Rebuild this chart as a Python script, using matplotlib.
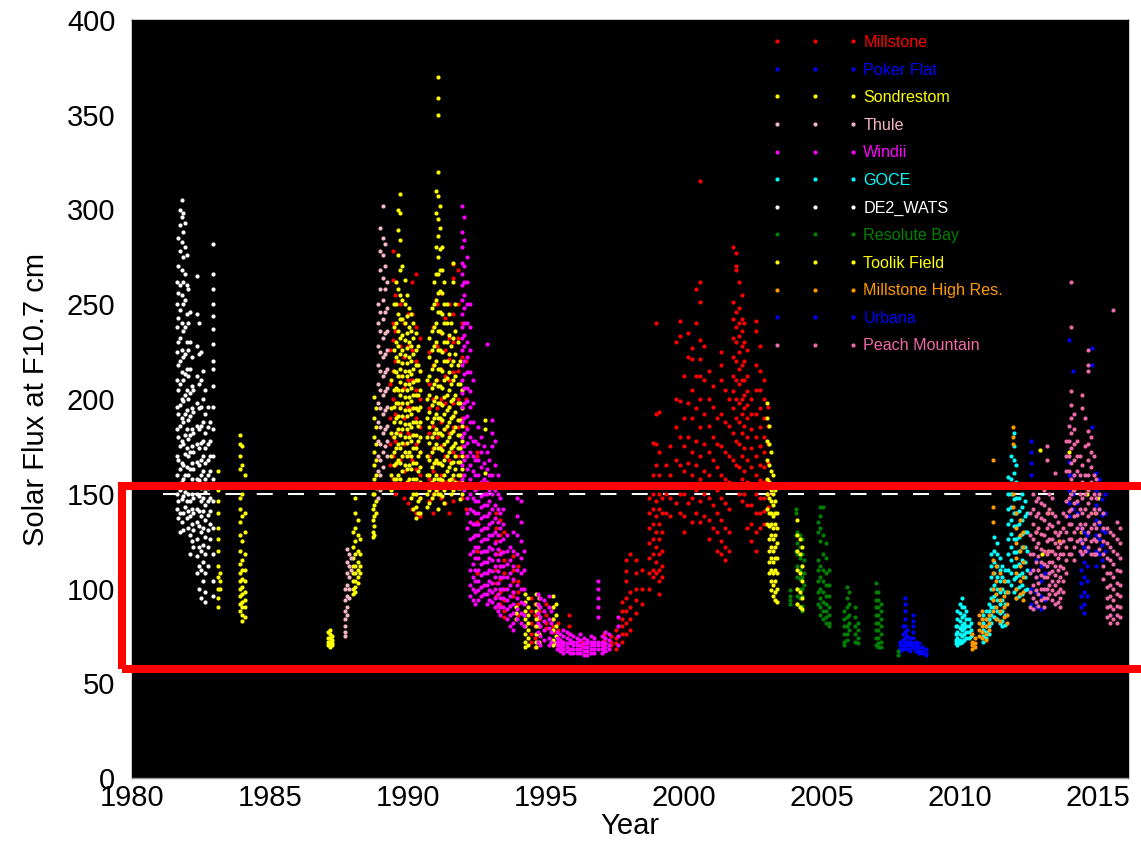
import matplotlib
matplotlib.use("Agg")
import matplotlib.pyplot as plt
from matplotlib.lines import Line2D
from matplotlib.patches import Rectangle
import numpy as np

plt.rcParams['font.family'] = ['Liberation Sans', 'DejaVu Sans']

# ---- Observation sets: (decimal year, [F10.7 flux values observed around that time]) ----
millstone = [
    (1989.35, [226, 208, 190, 176, 165]),
    (1989.45, [278, 263, 240, 231, 215, 200, 180, 170, 158]),
    (1989.55, [255, 236, 220, 205, 192, 178, 165, 150]),
    (1989.70, [250, 228, 212, 196, 182, 168, 155]),
    (1989.85, [240, 222, 206, 190, 176, 162, 148]),
    (1990.00, [245, 228, 210, 196, 182, 170, 156, 145]),
    (1990.15, [262, 245, 226, 210, 195, 181, 168, 155, 142]),
    (1990.30, [266, 238, 220, 205, 190, 176, 163, 150, 140]),
    (1990.45, [232, 215, 200, 185, 172, 160, 148, 138]),
    (1990.75, [225, 208, 195, 182, 170, 158, 146]),
    (1990.90, [238, 218, 200, 186, 174, 162, 150, 140]),
    (1991.05, [250, 228, 210, 195, 180, 166, 152]),
    (1991.20, [256, 235, 216, 200, 188, 175, 160, 148]),
    (1991.35, [243, 226, 212, 198, 184, 170, 156, 145]),
    (1991.50, [250, 232, 221, 210, 196, 182, 168, 154, 140]),
    (1991.65, [271, 264, 245, 230, 214, 198, 185, 172, 158, 146]),
    (1991.80, [268, 250, 232, 215, 200, 185, 170, 156]),
    (1991.95, [240, 222, 205, 190, 175, 160, 148]),
    (1992.10, [220, 200, 185, 170, 155, 142]),
    (1992.50, [172, 170, 135, 120, 108]),
    (1993.20, [140, 132, 125, 118, 110, 103, 96, 90]),
    (1993.35, [136, 128, 120, 112, 105, 98, 92]),
    (1993.50, [130, 115, 108, 100, 94, 88, 85]),
    (1993.80, [117, 110, 104, 98, 96]),
    (1994.00, [112, 104, 98, 92, 86]),
    (1994.45, [95, 88, 82, 76, 72]),
    (1994.60, [92, 86, 80, 74, 69]),
    (1994.75, [95, 88, 84, 80, 76]),
    (1995.00, [92, 86, 82, 79]),
    (1995.25, [90, 84, 80, 77]),
    (1995.45, [82, 78, 74, 71]),
    (1995.85, [86, 80, 76]),
    (1996.30, [72, 70, 69]),
    (1997.10, [76, 73, 70, 69]),
    (1997.35, [75, 72, 70]),
    (1997.55, [78, 74, 71, 68]),
    (1997.75, [93, 88, 84, 80, 76, 72]),
    (1997.90, [115, 109, 104, 95, 88, 82, 76]),
    (1998.05, [118, 98, 90, 84, 78]),
    (1998.25, [115, 108, 100, 94, 87]),
    (1998.50, [110, 100, 92]),
    (1998.75, [148, 140, 132, 124, 116, 108, 100]),
    (1998.90, [177, 160, 150, 142, 134, 126, 118, 110, 106]),
    (1999.00, [240, 192, 176, 165, 155, 146, 138, 130, 122, 114, 108]),
    (1999.10, [193, 172, 160, 150, 142, 134, 126, 118, 110, 104, 97]),
    (1999.20, [148, 140, 130, 120, 112, 106]),
    (1999.35, [165, 150, 140]),
    (1999.50, [175, 160, 148, 138]),
    (1999.70, [230, 200, 185, 168, 155, 145]),
    (1999.85, [241, 233, 199, 180, 165, 150, 140]),
    (2000.00, [212, 190, 175, 162, 150, 138, 130]),
    (2000.15, [235, 222, 198, 180, 166, 155, 145]),
    (2000.30, [227, 221, 205, 190, 172, 160, 148, 135]),
    (2000.45, [258, 240, 212, 195, 178, 165, 152, 140]),
    (2000.60, [315, 262, 251, 231, 221, 212, 200, 185, 170, 158, 146, 135]),
    (2000.75, [228, 210, 192, 176, 162, 150, 138]),
    (2000.90, [215, 200, 186, 172, 160, 148, 136, 126]),
    (2001.05, [207, 196, 180, 168, 155, 144, 132]),
    (2001.20, [190, 176, 164, 152, 140, 130, 120]),
    (2001.35, [225, 218, 210, 192, 175, 160, 148, 136, 125, 118]),
    (2001.50, [205, 188, 172, 158, 145, 132, 122, 115]),
    (2001.65, [200, 186, 170, 156, 142, 130, 120]),
    (2001.80, [280, 251, 242, 232, 222, 212, 204, 195, 182, 168, 155]),
    (2001.90, [277, 270, 268, 246, 238, 230, 220, 210, 200, 190, 178, 165]),
    (2002.00, [262, 248, 240, 233, 225, 216, 208, 198, 188, 176, 164, 150]),
    (2002.10, [255, 242, 236, 228, 218, 210, 200, 192, 182, 170, 158, 146]),
    (2002.20, [240, 230, 220, 210, 202, 195, 186, 174, 162, 150]),
    (2002.30, [226, 212, 204, 197, 190, 180, 168, 156, 144, 132]),
    (2002.45, [200, 192, 184, 174, 164, 154, 144, 134, 125]),
    (2002.60, [241, 236, 218, 205, 192, 180, 170, 160, 150, 140, 130, 120]),
    (2002.75, [228, 215, 205, 195, 185, 175, 165, 157, 148, 140, 132]),
    (2002.90, [210, 200, 190, 180, 172, 164, 156, 148, 141, 134]),
    (2003.05, [196, 186, 176, 166, 157, 150, 143]),
]

poker_flat = [
    (2007.85, [72, 70, 68, 67]),
    (2007.95, [80, 76, 73, 70, 68]),
    (2008.02, [95, 92, 88, 84, 80, 77, 74, 71, 69]),
    (2008.10, [78, 75, 72, 70, 68]),
    (2008.20, [74, 72, 70, 68, 67]),
    (2008.30, [86, 83, 80, 77, 74, 71, 69]),
    (2008.40, [72, 70, 68, 67]),
    (2008.52, [71, 69, 67, 66]),
    (2008.65, [69, 67, 66]),
    (2008.78, [68, 66, 65]),
]

sondrestrom = [
    (1983.10, [162, 152, 146, 140, 132, 126, 120, 112, 106, 100, 95, 90]),
    (1983.20, [108, 104, 100]),
    (1983.92, [181, 176, 170, 163, 155, 148, 142, 135, 128, 120, 113, 108, 104, 100, 96, 92, 88]),
    (1984.00, [175, 165, 150, 138, 125, 115, 110, 105, 101, 97, 93, 90, 86, 83]),
    (1984.08, [160, 140, 130, 118, 110, 104, 98, 94, 90, 85]),
    (1987.12, [77, 74, 72, 70]),
    (1987.18, [78, 76, 74, 72, 70, 69]),
    (1987.25, [75, 73, 71, 70]),
    (1988.02, [130, 122, 116, 112, 108, 104, 100, 97]),
    (1988.10, [148, 140, 132, 125, 118, 112, 108, 104, 101, 98]),
    (1988.18, [136, 128, 120, 114, 110, 106, 103]),
    (1988.26, [126, 118, 112, 108]),
    (1988.72, [150, 142, 136, 130, 127]),
    (1988.78, [201, 190, 180, 172, 165, 158, 150, 144, 138, 133, 128]),
    (1988.86, [195, 185, 176, 168, 160, 153, 146, 140]),
    (1989.40, [210, 195, 182, 170, 160, 152]),
    (1989.48, [250, 238, 226, 215, 205, 196, 188, 180, 172, 165, 158]),
    (1989.56, [262, 250, 240, 230, 222, 214, 206, 198, 190, 182, 174, 166, 158]),
    (1989.64, [300, 289, 276, 258, 245, 236, 228, 220, 212, 205, 198, 191, 184, 176, 168, 160]),
    (1989.72, [308, 298, 284, 268, 255, 242, 232, 224, 216, 209, 202, 195, 188, 181, 174, 166, 158]),
    (1989.80, [270, 252, 242, 234, 226, 219, 212, 205, 198, 191, 184, 177, 170, 162]),
    (1989.88, [263, 250, 240, 231, 223, 215, 208, 201, 194, 187, 180, 172, 165]),
    (1989.96, [255, 244, 235, 227, 219, 212, 205, 198, 191, 184, 177, 170, 163, 156]),
    (1990.04, [248, 238, 230, 222, 215, 208, 201, 194, 187, 180, 172, 165, 158]),
    (1990.12, [245, 236, 228, 220, 213, 206, 199, 192, 185, 178, 170, 163, 155, 148]),
    (1990.20, [240, 232, 224, 216, 209, 202, 195, 188, 181, 174, 166, 158, 150, 142]),
    (1990.28, [235, 226, 218, 210, 202, 195, 188, 181, 174, 166, 158, 150, 143, 137]),
    (1990.36, [228, 218, 210, 202, 194, 186, 178, 170, 162, 154, 146, 140]),
    (1990.44, [215, 205, 196, 188, 180, 172, 164, 156, 148, 140]),
    (1990.70, [210, 200, 190, 180, 170, 160, 150, 143]),
    (1990.78, [232, 222, 212, 202, 193, 185, 177, 168, 160, 152, 145]),
    (1990.86, [248, 236, 226, 216, 206, 197, 188, 180, 172, 164, 156, 148]),
    (1990.94, [262, 250, 238, 228, 218, 208, 199, 190, 182, 174, 166, 158, 150]),
    (1991.02, [310, 298, 280, 266, 252, 240, 230, 220, 210, 201, 192, 184, 176, 168, 160, 152]),
    (1991.08, [370, 359, 350, 320, 307, 295, 286, 275, 266, 256, 246, 236, 226, 216, 207,
               198, 190, 182, 174, 166, 158, 150, 142]),
    (1991.16, [302, 290, 279, 268, 257, 246, 236, 226, 216, 207, 198, 190, 182, 174, 166, 158, 150]),
    (1991.24, [280, 268, 256, 245, 235, 225, 215, 206, 197, 189, 181, 173, 165, 157, 149]),
    (1991.32, [262, 250, 240, 230, 220, 210, 201, 192, 184, 176, 168, 160, 152, 145]),
    (1991.40, [250, 240, 230, 220, 211, 202, 194, 186, 178, 170, 162, 155]),
    (1991.48, [245, 234, 224, 214, 205, 196, 188, 180, 172, 164, 157]),
    (1991.56, [240, 228, 218, 208, 199, 190, 182, 174, 166, 158, 150]),
    (1991.64, [272, 262, 232, 220, 210, 200, 191, 183, 175, 167, 160, 152]),
    (1991.72, [250, 236, 224, 212, 202, 193, 185, 177, 170, 163, 156]),
    (1991.80, [230, 218, 208, 198, 189, 181, 174, 167, 160, 153]),
    (1991.88, [220, 208, 198, 189, 181, 174, 167, 160, 153, 147]),
    (1991.96, [205, 195, 186, 178, 170, 163, 156, 150]),
    (1992.80, [189, 184, 161]),
    (1993.90, [90, 87, 84]),
    (1994.25, [97, 93, 88, 84, 80, 76, 72, 69]),
    (1994.35, [95, 90, 86, 82, 78, 74, 70]),
    (1994.65, [97, 92, 88, 84, 80, 76, 72, 69]),
    (1994.75, [95, 90, 85, 80, 76, 72]),
    (1995.25, [96, 90, 84, 78, 73, 70]),
    (1995.35, [92, 86, 80, 75, 71]),
]

thule = [
    (1987.72, [100, 94, 88, 84, 80, 77, 75]),
    (1987.80, [121, 114, 108, 102, 96, 90, 86]),
    (1987.88, [118, 112, 106, 100, 95]),
    (1987.95, [116, 110]),
    (1988.92, [250, 240, 228, 218, 208, 198, 188, 178, 170, 162, 155, 148]),
    (1989.00, [290, 278, 268, 258, 246, 236, 225, 215, 205, 195, 185, 176, 168, 160, 152]),
    (1989.08, [302, 285, 276, 264, 252, 242, 232, 222, 212, 202, 192, 182, 172, 164]),
    (1989.16, [282, 270, 258, 246, 235, 224, 214, 204, 194, 184, 175]),
    (1989.24, [262, 248, 236, 226, 216, 206, 196, 186, 178, 170]),
]

windii = [
    (1991.95, [302, 288, 280, 272, 266, 260, 252, 245, 238, 232, 226, 218, 210, 203, 196, 188, 180, 172, 165, 158]),
    (1992.05, [296, 284, 270, 262, 255, 248, 240, 234, 228, 220, 213, 206, 198, 190, 182, 175, 168, 160, 152]),
    (1992.15, [275, 262, 250, 240, 230, 222, 214, 206, 199, 191, 184, 177, 170, 163, 155, 148, 140, 132]),
    (1992.25, [250, 238, 226, 214, 204, 196, 188, 180, 172, 165, 158, 150, 142, 135, 126, 118, 110, 102, 96]),
    (1992.35, [210, 198, 188, 178, 170, 162, 155, 148, 141, 134, 127, 120, 113, 106, 100, 94]),
    (1992.45, [178, 168, 160, 152, 146, 140, 134, 128, 122, 116, 110, 104, 98, 92]),
    (1992.55, [185, 176, 168, 160, 153, 146, 140, 134, 128, 122, 116, 110, 104, 99, 94]),
    (1992.65, [180, 172, 164, 156, 149, 143, 137, 131, 125, 119, 113, 107, 101, 96]),
    (1992.75, [175, 166, 158, 150, 144, 138, 132, 126, 120, 114, 108, 102, 97]),
    (1992.85, [229, 172, 163, 156, 150, 144, 138, 132, 126, 120, 114, 108, 102, 97, 92]),
    (1992.95, [168, 160, 152, 146, 140, 134, 128, 122, 116, 110, 104, 99, 94]),
    (1993.05, [189, 182, 175, 160, 150, 142, 135, 128, 121, 115, 109, 103, 98, 93]),
    (1993.15, [178, 165, 152, 144, 137, 130, 124, 118, 112, 106, 100, 95, 90]),
    (1993.25, [160, 150, 142, 135, 128, 121, 115, 109, 103, 97, 92, 88]),
    (1993.35, [148, 140, 132, 125, 118, 112, 106, 100, 95, 90, 86]),
    (1993.45, [142, 134, 126, 119, 112, 106, 100, 95, 90]),
    (1993.60, [128, 120, 113, 106, 100, 94, 89, 84]),
    (1993.70, [122, 115, 108, 102, 96, 91, 86, 80]),
    (1993.80, [130, 120, 112, 105, 98, 92, 87, 82, 78]),
    (1993.95, [148, 138, 128, 118, 110, 102, 95, 89, 84]),
    (1994.10, [146, 135, 125, 116, 108, 100, 93, 87, 82]),
    (1994.20, [120, 110, 100, 92, 86, 80]),
    (1994.70, [97, 92, 87, 82, 77, 72]),
    (1994.80, [95, 90, 85, 80, 75, 70]),
    (1994.95, [94, 88, 83, 78, 73]),
    (1995.10, [96, 90, 84, 79, 74, 70]),
    (1995.20, [88, 82, 77, 72]),
    (1995.40, [77, 74, 72, 70, 68]),
    (1995.50, [76, 73, 71, 69, 67]),
    (1995.62, [78, 75, 72, 70, 68, 66]),
    (1995.75, [77, 74, 71, 69, 67]),
    (1995.88, [76, 73, 71, 68, 66]),
    (1996.00, [75, 72, 70, 68, 66]),
    (1996.12, [74, 72, 70, 68, 66]),
    (1996.25, [76, 73, 70, 68, 66]),
    (1996.38, [74, 71, 69, 67, 65]),
    (1996.50, [73, 71, 69, 67, 65]),
    (1996.62, [75, 72, 70, 68, 66]),
    (1996.75, [74, 72, 70, 68, 66]),
    (1996.90, [104, 100, 95, 90, 85, 72, 70, 68]),
    (1997.02, [75, 72, 70, 68, 66]),
    (1997.15, [77, 74, 71, 69, 67]),
    (1997.28, [76, 73, 70, 68]),
    (1997.60, [85, 80, 75, 70]),
]

goce = [
    (2009.85, [80, 76, 73, 71]),
    (2009.92, [88, 84, 80, 77, 74, 72, 70]),
    (2010.00, [92, 87, 83, 79, 76, 73, 71]),
    (2010.08, [95, 90, 85, 81, 78, 75, 72]),
    (2010.16, [90, 86, 82, 79, 76, 73]),
    (2010.24, [88, 84, 80, 77, 74]),
    (2010.32, [84, 80, 77, 74]),
    (2010.40, [82, 78, 75]),
    (2010.85, [86, 82, 78, 75, 72]),
    (2010.95, [88, 84, 80, 77, 74]),
    (2011.05, [92, 88, 84, 80, 76]),
    (2011.15, [118, 112, 106, 100, 95, 90, 86, 82]),
    (2011.25, [127, 120, 114, 108, 102, 96, 90, 85]),
    (2011.35, [124, 118, 112, 106, 100, 94, 88, 84]),
    (2011.45, [116, 110, 104, 98, 92, 87, 82]),
    (2011.55, [112, 106, 100, 94, 88, 83, 80]),
    (2011.65, [110, 104, 98, 92, 86, 81]),
    (2011.75, [159, 150, 142, 134, 126, 118, 110, 104, 98]),
    (2011.85, [170, 158, 150, 143, 136, 129, 122, 115, 108, 102]),
    (2011.95, [182, 175, 168, 161, 154, 147, 140, 133, 126, 119, 112, 105, 98]),
    (2012.05, [165, 156, 148, 140, 133, 126, 119, 112, 106, 100, 95]),
    (2012.15, [155, 148, 141, 134, 127, 120, 113, 107, 101, 96]),
    (2012.25, [150, 143, 136, 129, 122, 115, 108, 102, 97]),
    (2012.35, [146, 138, 130, 122, 114, 106, 99]),
    (2012.45, [140, 130, 120, 110, 100]),
]

de2_wats = [
    (1981.62, [262, 250, 238, 225, 210, 196, 184, 170, 160, 150, 142]),
    (1981.68, [285, 270, 256, 243, 230, 218, 205, 192, 180, 168, 155, 146, 137]),
    (1981.74, [300, 292, 278, 260, 247, 232, 220, 208, 197, 186, 175, 163, 152, 140, 130]),
    (1981.80, [305, 296, 283, 268, 255, 240, 226, 214, 200, 190, 178, 166, 156, 147, 135]),
    (1981.86, [298, 288, 275, 262, 250, 236, 222, 210, 199, 188, 176, 165, 158, 149, 140, 131]),
    (1981.92, [293, 280, 266, 252, 238, 224, 213, 202, 192, 181, 171, 160, 151, 143]),
    (1981.98, [276, 260, 245, 230, 216, 205, 194, 184, 174, 164, 155, 146, 137]),
    (1982.04, [258, 240, 226, 212, 200, 189, 179, 170, 160, 150, 141, 132]),
    (1982.10, [246, 230, 216, 203, 191, 181, 172, 163, 154, 146, 138, 128, 118]),
    (1982.16, [222, 207, 195, 184, 175, 166, 158, 150, 142, 134, 125]),
    (1982.22, [205, 193, 182, 172, 163, 155, 148, 140, 131, 122]),
    (1982.35, [265, 245, 228, 212, 198, 186, 176, 167, 158, 150, 142, 135, 126, 117, 108]),
    (1982.42, [240, 224, 208, 195, 184, 174, 165, 157, 149, 141, 133, 122, 112, 100]),
    (1982.50, [225, 210, 196, 186, 177, 168, 160, 153, 146, 138, 130, 120, 110, 95]),
    (1982.58, [215, 200, 188, 178, 170, 162, 155, 148, 141, 132, 123, 114, 104]),
    (1982.66, [205, 192, 182, 174, 166, 158, 151, 144, 136, 127, 118, 108, 98, 93]),
    (1982.74, [196, 185, 176, 168, 160, 153, 146, 139, 131, 122, 112]),
    (1982.82, [188, 178, 170, 162, 155, 148, 141, 134, 126]),
    (1982.95, [282, 266, 258, 250, 244, 237, 229, 220, 216, 207, 196, 184, 170, 158, 146, 132, 118, 104, 96]),
]

resolute_bay = [
    (2003.85, [99, 96, 94, 92]),
    (2004.05, [142, 140, 128, 120]),
    (2004.12, [130, 124, 118, 112, 106, 100, 96, 92]),
    (2004.20, [128, 122, 116, 110, 105, 100, 95, 90]),
    (2004.28, [126, 118, 112, 106, 100, 96, 91, 88]),
    (2004.35, [115, 108, 102]),
    (2004.88, [135, 130, 115, 110, 104, 98, 92]),
    (2004.95, [143, 138, 132, 125, 112, 106, 100, 95, 90, 86]),
    (2005.05, [143, 128, 118, 110, 104, 98, 93, 88, 84]),
    (2005.15, [124, 116, 108, 102, 96, 92, 88, 85, 82]),
    (2005.25, [110, 102, 96, 90, 86, 82, 80]),
    (2005.80, [88, 84, 80, 76, 72, 70]),
    (2005.90, [101, 95, 90, 85, 80, 76, 73]),
    (2006.00, [98, 92, 86, 82, 78]),
    (2006.20, [90, 85, 80, 76, 72]),
    (2006.30, [82, 78, 74, 71]),
    (2006.95, [103, 98, 94, 90, 86, 82, 78, 74, 70]),
    (2007.05, [98, 94, 90, 86, 82, 78, 74, 71, 69]),
    (2007.15, [92, 88, 84, 80, 76, 72, 69]),
    (2007.78, [67, 65]),
]

toolik_field = [
    (2003.00, [198, 190, 178, 168, 158, 150, 142, 134]),
    (2003.08, [186, 176, 165, 156, 148, 140, 133, 126, 120, 114, 108]),
    (2003.15, [172, 162, 152, 146, 140, 134, 128, 122, 116, 110, 104, 99]),
    (2003.22, [160, 150, 144, 138, 132, 126, 120, 114, 108, 102, 96]),
    (2003.30, [152, 146, 140, 134, 128, 122, 116, 110, 104, 98, 94]),
    (2003.38, [140, 132, 124, 116, 108, 100, 93]),
    (2004.12, [136, 128, 120, 110, 100, 92]),
    (2004.22, [126, 118, 108, 98, 90]),
    (2004.30, [122, 112, 104, 95, 89]),
    (2012.90, [173]),
    (2013.00, [118]),
    (2013.95, [172]),
    (2014.60, [150]),
    (2014.90, [118]),
    (2015.00, [148]),
]

millstone_hr = [
    (2010.45, [76, 72, 70, 68]),
    (2010.55, [74, 71, 69]),
    (2010.70, [86, 82, 78, 75]),
    (2010.80, [88, 84, 80, 77, 74]),
    (2010.95, [84, 80, 76, 73]),
    (2011.05, [86, 82, 78]),
    (2011.20, [168, 143, 135, 115, 108, 100, 94, 88]),
    (2011.30, [112, 104, 97, 90, 84]),
    (2011.45, [108, 100, 94, 88, 83]),
    (2011.60, [104, 96, 90, 85]),
    (2011.70, [98, 92, 86, 82]),
    (2011.92, [185, 180, 176, 150, 143]),
    (2012.05, [140, 132, 124, 116, 108, 100, 95]),
    (2012.18, [136, 128, 120, 112, 104, 97]),
    (2012.30, [130, 122, 114, 106, 98, 94]),
    (2012.75, [130]),
    (2013.20, [140, 120]),
    (2013.60, [125]),
    (2014.10, [152]),
    (2014.40, [130]),
    (2014.90, [140]),
]

urbana = [
    (2012.60, [178, 172, 166, 160, 110, 100, 92]),
    (2012.75, [115, 106, 98, 90]),
    (2012.95, [112, 104, 96, 89]),
    (2013.10, [108, 100, 94]),
    (2013.95, [231, 167, 160, 152, 145, 138]),
    (2014.10, [215, 160, 150, 142]),
    (2014.25, [155, 145, 140]),
    (2014.40, [132, 125, 118, 110, 103, 96, 90]),
    (2014.50, [130, 122, 114, 106, 98, 92, 87]),
    (2014.60, [128, 120, 112, 104, 96]),
    (2014.80, [227, 218, 185]),
    (2014.95, [161, 152, 144, 136, 128, 120, 112]),
    (2015.05, [158, 150, 142, 134, 126, 118]),
    (2015.15, [155, 147, 139, 131, 123, 115]),
    (2015.25, [150, 140, 130, 120]),
]

peach_mountain = [
    (2012.55, [140, 128, 118, 108, 98, 90]),
    (2012.65, [150, 142, 134, 126, 118, 110, 102, 95, 89]),
    (2012.75, [154, 146, 138, 130, 122, 114, 106, 99, 93]),
    (2012.85, [148, 140, 132, 124, 117, 110, 103, 97, 91]),
    (2012.95, [145, 137, 129, 121, 114, 107, 100, 94]),
    (2013.05, [152, 144, 136, 128, 120, 113, 106, 100, 95, 90]),
    (2013.15, [175, 168, 140, 132, 125, 118, 112, 106, 100, 95]),
    (2013.25, [150, 142, 134, 126, 120, 114, 108, 102, 97]),
    (2013.35, [148, 140, 133, 126, 120, 114, 109, 104, 99, 94]),
    (2013.45, [161, 138, 130, 124, 118, 112, 107, 102, 97, 92]),
    (2013.55, [135, 128, 122, 116, 110, 104, 98, 93]),
    (2013.65, [130, 124, 118, 112, 106, 100, 95, 90]),
    (2013.75, [140, 132, 125, 118, 111, 104, 98]),
    (2013.85, [178, 170, 162, 154, 146, 138, 130, 122, 115, 108]),
    (2013.95, [186, 178, 170, 162, 155, 148, 141, 134, 126, 118]),
    (2014.05, [262, 238, 204, 197, 190, 182, 174, 166, 158, 150, 142, 134, 126, 118]),
    (2014.15, [192, 184, 176, 168, 160, 152, 145, 138, 130, 122, 115]),
    (2014.25, [178, 170, 162, 154, 146, 139, 132, 125]),
    (2014.35, [170, 160, 150, 142, 134, 126, 120]),
    (2014.45, [202, 195, 165, 156, 148, 140, 132, 124, 118]),
    (2014.55, [190, 175, 160, 150, 142, 134, 126, 120]),
    (2014.65, [226, 218, 215, 183, 176, 168, 160, 152, 145, 138, 130, 122]),
    (2014.75, [180, 172, 164, 156, 148, 140, 132, 125, 118]),
    (2014.85, [170, 160, 150, 142, 134, 126, 118]),
    (2014.95, [158, 148, 140, 132, 125, 118]),
    (2015.05, [150, 142, 135, 128, 121]),
    (2015.20, [140, 132, 125, 118, 112, 105]),
    (2015.35, [132, 124, 116, 108, 101, 95, 90, 85]),
    (2015.45, [130, 122, 115, 108, 102, 96, 91, 86, 82]),
    (2015.57, [247, 128, 120, 113, 106, 100, 94, 89, 84]),
    (2015.70, [135, 126, 118, 110, 103, 97, 91, 86, 82]),
    (2015.82, [132, 124, 116, 109, 102, 96, 90, 85]),
]

station_names = ["Millstone", "Poker Flat", "Sondrestom", "Thule", "Windii", "GOCE",
                 "DE2_WATS", "Resolute Bay", "Toolik Field", "Millstone High Res.",
                 "Urbana", "Peach Mountain"]
station_data = [millstone, poker_flat, sondrestrom, thule, windii, goce,
                de2_wats, resolute_bay, toolik_field, millstone_hr, urbana, peach_mountain]
station_colors = ["#FF0000", "#0000FF", "#FFFF00", "#F4B6C2", "#FF00FF", "#00FFFF",
                  "#FFFFFF", "#008000", "#FFFF00", "#FF9900", "#0000FF", "#EE6AA7"]

threshold_flux = 150
year_ticks = [1980, 1985, 1990, 1995, 2000, 2005, 2010, 2015]
flux_ticks = [0, 50, 100, 150, 200, 250, 300, 350, 400]


def flatten(columns):
    xs, ys = [], []
    for year, fluxes in columns:
        xs.extend([year] * len(fluxes))
        ys.extend(fluxes)
    return np.array(xs), np.array(ys)


W, H, DPI = 1141, 848, 100
fig = plt.figure(figsize=(W / DPI, H / DPI), dpi=DPI, facecolor="white")
ax = fig.add_axes([132 / W, 1 - 778 / H, (1128 - 132) / W, (778 - 20) / H])
ax.set_facecolor("black")

# reference flux level
plt.rcParams['lines.scale_dashes'] = False
ax.plot([1981.14, 2014.7], [threshold_flux, threshold_flux], color="white", lw=1.5,
        dashes=(11.5, 11.0), zorder=1.5)

for name, cols, color in zip(station_names, station_data, station_colors):
    x, y = flatten(cols)
    ax.scatter(x, y, s=9, c=color, marker="o", linewidths=0, zorder=2)

ax.set_xlim(1980, 2016.1)
ax.set_ylim(0, 400)
ax.set_xticks(year_ticks)
ax.set_yticks(flux_ticks)
ax.tick_params(axis="x", length=0, pad=4, labelsize=21, colors="black")
ax.tick_params(axis="y", length=0, pad=12, labelsize=21, colors="black")
for side, sp in ax.spines.items():
    sp.set_color("#999999" if side == "bottom" else "black")
    sp.set_linewidth(1)

ax.set_xlabel("Year", fontsize=21, labelpad=0)
ax.set_ylabel("Solar Flux at F10.7 cm", fontsize=21, labelpad=12)

handles = [Line2D([], [], ls="none", marker="o", ms=3.0, mew=0, color=c, label=n)
           for n, c in zip(station_names, station_colors)]
leg = fig.legend(handles=handles, loc="upper left", bbox_to_anchor=(772 / W, 1 - 35 / H),
                 frameon=False, fontsize=11.6, numpoints=3, handlelength=5.32,
                 handletextpad=0.35, labelspacing=0.78, borderpad=0, borderaxespad=0)
for txt, c in zip(leg.get_texts(), station_colors):
    txt.set_color(c)

# highlighted flux band
ax.add_patch(Rectangle((1979.62, 57.3), 37.4, 96.7, fill=False, edgecolor="red",
                       lw=5.8, clip_on=False, zorder=5))

fig.savefig("out.png", dpi=DPI, facecolor="white")
